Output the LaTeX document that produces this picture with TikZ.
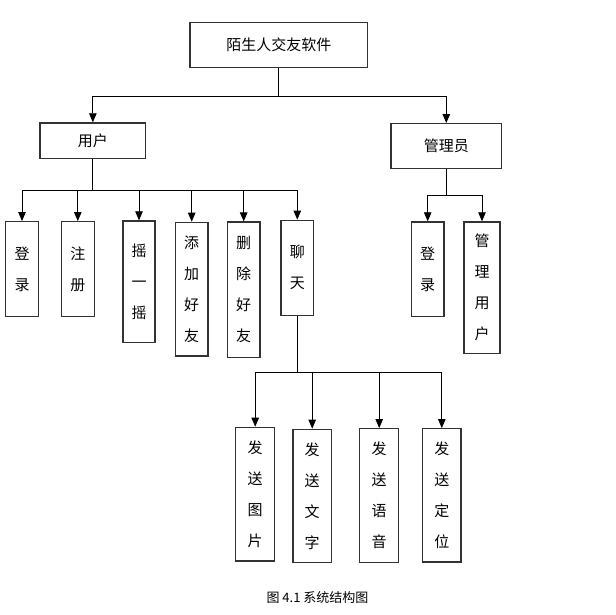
\documentclass[tikz,border=0pt]{standalone}
\usepackage{fontspec}
\newfontfamily\cjk{Noto Sans CJK SC}
\usetikzlibrary{arrows.meta}

\begin{document}
\begin{tikzpicture}[
  % pixel-like units, y grows downwards
  x=1pt, y=-1pt,
  box/.style={
    rectangle, draw=black!80, line width=1.3pt, fill=white,
    inner sep=0pt, align=center,
    font=\cjk\fontsize{15}{31}\selectfont
  },
  link/.style={line width=0.8pt, black},
  arr/.style={link, -{Triangle[length=9pt,width=7.5pt]}},
]
\useasboundingbox (0,0) rectangle (616,615);

% --- Root and second level ---
\node[box, minimum width=177.7pt, minimum height=45pt]
  (root) at (278.8,44.8) {陌生人交友软件};
\node[box, minimum width=105.7pt, minimum height=35.7pt]
  (user) at (92.85,140.8) {用户};
\node[box, minimum width=110.7pt, minimum height=44.6pt]
  (admin) at (446.3,146) {管理员};

% --- User functions ---
\foreach \nm/\cx/\cy/\w/\h/\txt in {
    u1/22/269.2/32.6/95/{登\\录},
    u2/77.8/269.2/33/95/{注\\册},
    u3/139/281.8/32/121.7/{摇\\一\\摇},
    u4/191.7/289.2/32.7/133.7/{添\\加\\好\\友},
    u5/243.7/289.7/32.7/135.3/{删\\除\\好\\友},
    u6/297.3/267.8/32.7/95/{聊\\天},
    a1/427.7/269.3/32.7/94.7/{登\\录},
    a2/482/287.8/36/131.7/{管\\理\\用\\户},
    c1/255.2/494.2/39/133.7/{发\\送\\图\\片},
    c2/312.2/496/38.3/133.4/{发\\送\\文\\字},
    c3/379.2/495.5/39/133.6/{发\\送\\语\\音},
    c4/441.8/495.4/38.3/133.3/{发\\送\\定\\位}} {
  \node[box, minimum width=\w pt, minimum height=\h pt]
    (\nm) at (\cx,\cy) {\txt};
}

% --- Connectors ---
\draw[link] (root.south) -- ++(0,28.4) coordinate (rootj);
\draw[arr] (rootj) -| (user.north);
\draw[arr] (rootj) -| (admin.north);

\draw[link] (user.south) -- ++(0,31.3) coordinate (userj);
\foreach \c in {u1,u2,u3,u4,u5,u6}
  \draw[arr] (userj) -| (\c.north);

\draw[link] (admin.south) -- ++(0,26.2) coordinate (adminj);
\foreach \c in {a1,a2}
  \draw[arr] (adminj) -| (\c.north);

\draw[link] (u6.south) -- ++(0,56.4) coordinate (chatj);
\foreach \c in {c1,c2,c3,c4}
  \draw[arr] (chatj) -| (\c.north);

% --- Caption ---
\node[font=\cjk\fontsize{13}{15}\selectfont] (cap) at (317.5,598)
  {图 4.1 系统结构图};

\end{tikzpicture}
\end{document}
